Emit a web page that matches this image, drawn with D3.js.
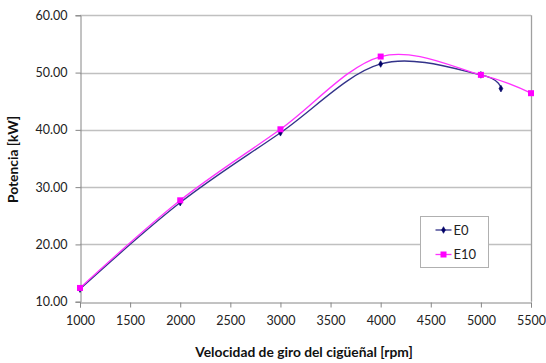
<!DOCTYPE html>
<html>
<head>
<meta charset="utf-8">
<script src="https://cdn.jsdelivr.net/npm/d3@7/dist/d3.min.js"></script>
<style>
  html, body { margin: 0; padding: 0; background: #fff; }
  svg { display: block; font-family: Lato, "Open Sans", "Liberation Sans", sans-serif; }
</style>
</head>
<body>
<svg id="chart" width="546" height="363"></svg>
<script>
// Engine power vs crankshaft speed, two fuel blends
const rpmE0 = [1000, 2000, 3000, 4000, 5000, 5200];
const powerE0 = [12.2, 27.3, 39.5, 51.5, 49.6, 47.2];
const rpmE10 = [1000, 2000, 3000, 4000, 5000, 5500];
const powerE10 = [12.4, 27.7, 40.1, 52.8, 49.6, 46.4];
const xTicks = [1000, 1500, 2000, 2500, 3000, 3500, 4000, 4500, 5000, 5500];
const yTicks = [10, 20, 30, 40, 50, 60];
const seriesNames = ["E0", "E10"];

const svg = d3.select("#chart");
const margin = { left: 80, right: 15, top: 15.3, bottom: 61.3 };
const W = 546, H = 363;

const x = d3.scaleLinear().domain([1000, 5500]).range([margin.left, W - margin.right]);
const y = d3.scaleLinear().domain([10, 60]).range([H - margin.bottom, margin.top]);

// horizontal gridlines
svg.append("g").selectAll("line").data(yTicks.filter(d => d > 10)).join("line")
  .attr("x1", x(1000)).attr("x2", x(5500))
  .attr("y1", d => Math.round(y(d)) + 0.5).attr("y2", d => Math.round(y(d)) + 0.5)
  .attr("stroke", "#c0c0c0").attr("stroke-width", 1.3);

// right border of plot area
svg.append("line")
  .attr("x1", Math.round(x(5500)) + 0.5).attr("x2", Math.round(x(5500)) + 0.5)
  .attr("y1", y(60)).attr("y2", y(10))
  .attr("stroke", "#a0a0a0").attr("stroke-width", 1.3);

// axes
const xAxis = svg.append("g")
  .attr("transform", `translate(0,${Math.round(y(10)) + 0.5})`)
  .call(d3.axisBottom(x).tickValues(xTicks).tickSize(5).tickPadding(6).tickFormat(d3.format("d")));
const yAxis = svg.append("g")
  .attr("transform", `translate(${Math.round(x(1000)) + 0.5},0)`)
  .call(d3.axisLeft(y).tickValues(yTicks).tickSize(5).tickPadding(6).tickFormat(d3.format(".2f")));

[xAxis, yAxis].forEach(g => {
  g.select(".domain").attr("stroke", "#868686").attr("stroke-width", 1);
  g.selectAll(".tick line").attr("stroke", "#868686");
  g.selectAll(".tick text").attr("fill", "#222").attr("font-size", 12.5)
    .attr("font-family", "Lato, 'Open Sans', sans-serif");
});
yAxis.selectAll(".tick text").attr("dx", -2);
xAxis.selectAll(".tick text").attr("dy", "0.9em");

// axis titles
svg.append("text")
  .attr("x", 304).attr("y", 357)
  .attr("text-anchor", "middle").attr("font-weight", "bold").attr("font-size", 13.8)
  .attr("fill", "#111")
  .text("Velocidad de giro del cigüeñal [rpm]");
svg.append("text")
  .attr("transform", `translate(18,${(y(10) + y(60)) / 2 + 1}) rotate(-90)`)
  .attr("text-anchor", "middle").attr("font-weight", "bold").attr("font-size", 13.8)
  .attr("fill", "#111")
  .text("Potencia [kW]");

// smoothed series lines
const line = d3.line().x(d => x(d[0])).y(d => y(d[1])).curve(d3.curveCardinal.tension(0));
const e0 = rpmE0.map((r, i) => [r, powerE0[i]]);
const e10 = rpmE10.map((r, i) => [r, powerE10[i]]);

svg.append("path").datum(e0).attr("d", line)
  .attr("fill", "none").attr("stroke", "#33338a").attr("stroke-width", 1.3);
svg.append("path").datum(e10).attr("d", line)
  .attr("fill", "none").attr("stroke", "#ff33ff").attr("stroke-width", 1.3);

// markers
const diamond = d3.symbol().type(d3.symbolDiamond).size(13);
svg.append("g").selectAll("path").data(e0).join("path")
  .attr("transform", d => `translate(${x(d[0])},${y(d[1])})`)
  .attr("d", diamond).attr("fill", "#000066").attr("stroke", "#000066").attr("stroke-width", 0.6);
svg.append("g").selectAll("rect").data(e10).join("rect")
  .attr("x", d => x(d[0]) - 3).attr("y", d => y(d[1]) - 3)
  .attr("width", 6).attr("height", 6).attr("fill", "#ff00ff");

// legend
const lg = svg.append("g").attr("transform", "translate(420.5,216.5)");
lg.append("rect").attr("width", 68).attr("height", 51)
  .attr("fill", "#fff").attr("stroke", "#b0b0b0").attr("stroke-width", 1);
const items = [
  { name: seriesNames[0], color: "#33338a", mark: "diamond" },
  { name: seriesNames[1], color: "#ff33ff", mark: "rect" }
];
items.forEach((it, i) => {
  const cy = 13.5 + i * 24.5;
  lg.append("line").attr("x1", 15).attr("x2", 31).attr("y1", cy).attr("y2", cy)
    .attr("stroke", it.color).attr("stroke-width", 1.3);
  if (it.mark === "diamond") {
    lg.append("path").attr("transform", `translate(23,${cy})`).attr("d", diamond)
      .attr("fill", "#000066").attr("stroke", "#000066").attr("stroke-width", 0.6);
  } else {
    lg.append("rect").attr("x", 20).attr("y", cy - 3).attr("width", 6).attr("height", 6).attr("fill", "#ff00ff");
  }
  lg.append("text").attr("x", 33).attr("y", cy).attr("dy", "0.36em")
    .attr("font-size", 13).attr("fill", "#222").text(it.name);
});
</script>
</body>
</html>
